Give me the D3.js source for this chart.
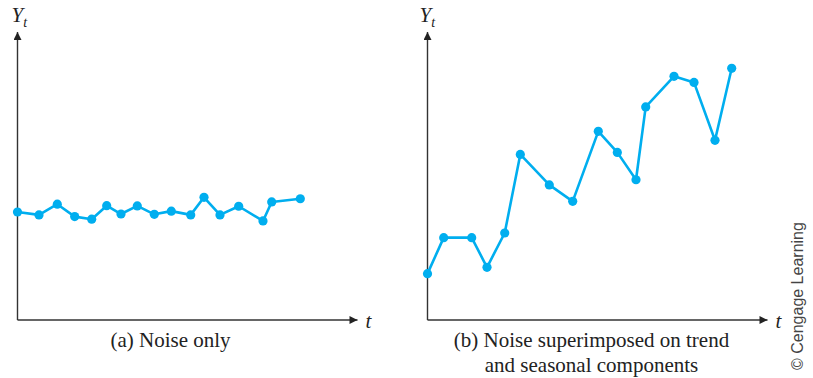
<!DOCTYPE html>
<html>
<head>
<meta charset="utf-8">
<script src="https://cdn.jsdelivr.net/npm/d3@7/dist/d3.min.js"></script>
<style>
  html, body { margin: 0; padding: 0; background: #fff; }
  svg { display: block; }
</style>
</head>
<body>
<svg id="chart" width="813" height="378"></svg>
<script>
// Panel (a): noise only
const noiseT = [0, 2.15, 3.98, 5.72, 7.42, 8.92, 10.35, 11.98, 13.68, 15.38, 17.32, 18.65, 20.25, 22.12, 24.55, 25.42, 28.28];
const noiseY = [37.5, 36.5, 40.2, 35.9, 35.0, 39.7, 36.8, 39.6, 36.7, 37.8, 36.5, 42.6, 36.5, 39.5, 34.4, 41.0, 42.1];

// Panel (b): noise on top of trend and seasonal pattern
const trendT = [0, 1.62, 4.42, 5.95, 7.72, 9.28, 12.18, 14.52, 17.08, 18.98, 20.85, 21.82, 24.65, 26.65, 28.75, 30.42];
const trendY = [16.1, 28.6, 28.6, 18.3, 30.2, 57.5, 46.9, 41.2, 65.5, 58.2, 48.7, 74.0, 84.6, 82.5, 62.4, 87.4];

const captionsA = ["(a) Noise only"];
const captionsB = ["(b) Noise superimposed on trend", "and seasonal components"];
const creditText = "\u00A9 Cengage Learning";

const lineColor = "#00AEEF";
const axisColor = "#333";
const serif = "'Liberation Serif', 'Times New Roman', serif";

const svg = d3.select("#chart");

const defs = svg.append("defs");
defs.append("marker")
  .attr("id", "arrow")
  .attr("viewBox", "0 0 10 10")
  .attr("refX", 10).attr("refY", 5)
  .attr("markerUnits", "userSpaceOnUse")
  .attr("markerWidth", 10).attr("markerHeight", 8)
  .attr("orient", "auto")
  .append("path")
  .attr("d", "M0,0 L10,5 L0,10 Z")
  .attr("fill", "#222");

function panel(cfg) {
  const x = d3.scaleLinear().domain([0, 34]).range([cfg.x0, cfg.x0 + 340]);
  const y = d3.scaleLinear().domain([0, 100]).range([320, 32]);
  const g = svg.append("g");

  // axes without ticks, only the domain lines, each ending in an arrow
  const xAxis = g.append("g").attr("transform", `translate(0,${y(0)})`)
    .call(d3.axisBottom(x).tickValues([]).tickSizeOuter(0));
  const yAxis = g.append("g").attr("transform", `translate(${x(0)},0)`)
    .call(d3.axisLeft(y).tickValues([]).tickSizeOuter(0));
  yAxis.select(".domain").attr("d", `M0,${y(0)}V${y(100)}`);
  xAxis.select(".domain").attr("d", `M${x(0)},0H${x(34)}`);
  [xAxis, yAxis].forEach(a => {
    a.select(".domain")
      .attr("stroke", axisColor)
      .attr("stroke-width", 1.4)
      .attr("marker-end", "url(#arrow)");
  });

  const pts = cfg.t.map((t, i) => [t, cfg.v[i]]);
  const line = d3.line().x(d => x(d[0])).y(d => y(d[1]));
  g.append("path")
    .datum(pts)
    .attr("d", line)
    .attr("fill", "none")
    .attr("stroke", lineColor)
    .attr("stroke-width", 2.6)
    .attr("stroke-linejoin", "round");
  g.selectAll("circle.pt").data(pts).join("circle")
    .attr("class", "pt")
    .attr("cx", d => x(d[0]))
    .attr("cy", d => y(d[1]))
    .attr("r", 4.6)
    .attr("fill", lineColor);

  // axis titles
  const yl = g.append("text")
    .attr("x", x(0) + cfg.yLabelDx)
    .attr("y", 22)
    .attr("font-family", serif)
    .attr("font-style", "italic")
    .attr("font-size", 21)
    .attr("fill", "#222");
  yl.append("tspan").text("Y");
  yl.append("tspan").attr("font-size", 14).attr("dy", 5).text("t");

  g.append("text")
    .attr("x", x(34) + 8)
    .attr("y", y(0) + 8)
    .attr("font-family", serif)
    .attr("font-style", "italic")
    .attr("font-size", 21)
    .attr("fill", "#222")
    .text("t");

  // caption
  g.selectAll("text.cap").data(cfg.captions).join("text")
    .attr("class", "cap")
    .attr("x", cfg.capX)
    .attr("y", (d, i) => 347 + i * 25)
    .attr("text-anchor", "middle")
    .attr("font-family", serif)
    .attr("font-size", 21)
    .attr("fill", "#222")
    .text(d => d);
}

panel({ x0: 17.5, t: noiseT, v: noiseY, captions: captionsA, capX: 170.5, yLabelDx: -6 });
panel({ x0: 427.5, t: trendT, v: trendY, captions: captionsB, capX: 591.5, yLabelDx: -8 });

svg.append("text")
  .attr("transform", "translate(803,370) rotate(-90)")
  .attr("font-family", "'Liberation Sans', Arial, sans-serif")
  .attr("font-size", 16)
  .attr("fill", "#444")
  .text(creditText);
</script>
</body>
</html>
